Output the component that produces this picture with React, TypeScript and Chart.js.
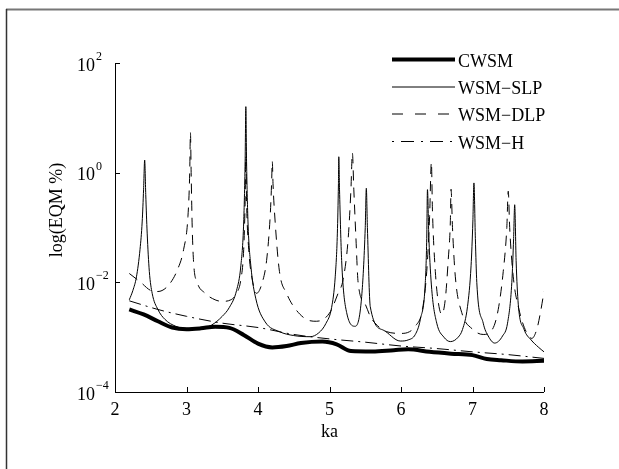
import React, { useEffect, useRef } from "react";
import { Chart, registerables } from "chart.js";

Chart.register(...registerables);

// ---- data ----
const xTicks = [2, 3, 4, 5, 6, 7, 8];
const yTicks = [100, 1, 0.01, 0.0001];
const yTickBase = ["10", "10", "10", "10"];
const yTickExp = ["2", "0", "\u22122", "\u22124"];

const seriesNames = ["CWSM", "WSM\u2212SLP", "WSM\u2212DLP", "WSM\u2212H"];

const cwsmKa = [2.2, 2.4, 2.6, 2.8, 3.0, 3.2, 3.4, 3.6, 3.8, 4.0, 4.2, 4.4, 4.6, 4.9, 5.1, 5.3, 5.6, 5.9, 6.1, 6.4, 6.7, 7.0, 7.2, 7.4, 7.7, 8.0];
const cwsmVal = [3.2e-3, 2.6e-3, 1.95e-3, 1.5e-3, 1.4e-3, 1.45e-3, 1.55e-3, 1.48e-3, 1.1e-3, 7.6e-4, 6.5e-4, 6.9e-4, 7.8e-4, 8.3e-4, 7.4e-4, 5.6e-4, 5.5e-4, 5.8e-4, 6.0e-4, 5.4e-4, 5.0e-4, 4.7e-4, 4.0e-4, 3.8e-4, 3.6e-4, 3.7e-4];

const slpKa = [2.2, 2.25, 2.3, 2.35, 2.38, 2.4, 2.415, 2.43, 2.45, 2.48, 2.52, 2.6, 2.7, 2.85, 3.0, 3.2, 3.35, 3.5, 3.6, 3.7, 3.76, 3.8, 3.82, 3.83, 3.84, 3.86, 3.9, 3.97, 4.1, 4.3, 4.5, 4.73, 4.85, 4.95, 5.03, 5.08, 5.11, 5.125, 5.13, 5.14, 5.17, 5.24, 5.36, 5.45, 5.5, 5.515, 5.53, 5.57, 5.75, 5.99, 6.1, 6.2, 6.27, 6.34, 6.36, 6.37, 6.39, 6.43, 6.5, 6.6, 6.69, 6.8, 6.86, 6.93, 6.98, 7.005, 7.02, 7.04, 7.06, 7.15, 7.22, 7.31, 7.42, 7.49, 7.55, 7.575, 7.59, 7.61, 7.64, 7.72, 7.82, 7.92, 8.0];
const slpVal = [4.8e-3, 7.1e-3, 1.26e-2, 4.0e-2, 0.126, 0.5, 1.7, 0.4, 0.079, 0.0158, 6.3e-3, 3.2e-3, 2.1e-3, 1.58e-3, 1.45e-3, 1.45e-3, 1.66e-3, 2.4e-3, 3.5e-3, 7.1e-3, 0.02, 0.126, 1.6, 16, 1.6, 0.126, 0.02, 5.0e-3, 1.9e-3, 1.26e-3, 1.07e-3, 1.02e-3, 1.2e-3, 1.78e-3, 3.5e-3, 0.0126, 0.079, 0.63, 1.95, 0.5, 0.025, 2.8e-3, 1.58e-3, 5.5e-3, 0.1, 0.52, 0.1, 3.6e-3, 1.35e-3, 8.5e-4, 8.9e-4, 1.12e-3, 2.1e-3, 0.01, 0.063, 0.49, 0.063, 7.4e-3, 1.8e-3, 1.0e-3, 8.3e-4, 1.0e-3, 1.38e-3, 3.6e-3, 0.02, 0.126, 0.65, 0.063, 0.01, 1.8e-3, 1.05e-3, 7.8e-4, 1.05e-3, 1.8e-3, 0.01, 0.063, 0.26, 0.025, 4.0e-3, 1.4e-3, 8.9e-4, 6.6e-4, 5.4e-4];

const dlpKa = [2.2, 2.36, 2.5, 2.6, 2.75, 2.88, 2.96, 3.02, 3.045, 3.055, 3.065, 3.08, 3.1, 3.15, 3.25, 3.4, 3.5, 3.62, 3.7, 3.76, 3.8, 3.82, 3.83, 3.84, 3.87, 3.92, 3.98, 4.06, 4.12, 4.17, 4.19, 4.2, 4.21, 4.24, 4.3, 4.4, 4.5, 4.68, 4.82, 5.0, 5.12, 5.19, 5.26, 5.3, 5.32, 5.34, 5.37, 5.4, 5.5, 5.57, 5.7, 5.8, 6.0, 6.12, 6.2, 6.3, 6.36, 6.4, 6.425, 6.44, 6.48, 6.52, 6.57, 6.62, 6.66, 6.69, 6.7, 6.72, 6.76, 6.85, 7.0, 7.15, 7.28, 7.36, 7.43, 7.48, 7.5, 7.52, 7.57, 7.65, 7.75, 7.83, 7.9, 7.95, 8.0];
const dlpVal = [0.0145, 0.01, 7.1e-3, 6.8e-3, 8.9e-3, 0.0178, 0.04, 0.158, 1.0, 5.4, 1.0, 0.1, 0.0224, 0.01, 6.5e-3, 4.8e-3, 4.5e-3, 4.8e-3, 6.3e-3, 0.0112, 0.04, 0.3, 2.0, 0.3, 0.04, 0.0112, 6.3e-3, 0.01, 0.025, 0.158, 0.63, 1.6, 0.63, 0.126, 0.0158, 6.3e-3, 3.6e-3, 2.1e-3, 1.95e-3, 2.75e-3, 6.3e-3, 0.0112, 0.06, 0.5, 2.3, 0.5, 0.063, 0.01, 4.0e-3, 2.4e-3, 1.5e-3, 1.26e-3, 1.17e-3, 1.26e-3, 1.58e-3, 3.2e-3, 0.0158, 0.158, 1.55, 0.2, 0.0158, 4.5e-3, 2.6e-3, 5.0e-3, 0.025, 0.126, 0.5, 0.1, 0.0126, 2.8e-3, 1.4e-3, 1.12e-3, 1.4e-3, 3.2e-3, 0.0158, 0.1, 0.46, 0.1, 0.0126, 3.2e-3, 1.26e-3, 9.5e-4, 1.4e-3, 2.8e-3, 6.8e-3];

const hKa = [2.2, 2.6, 3.0, 3.5, 4.0, 4.5, 5.0, 5.5, 6.0, 6.5, 7.0, 7.5, 8.0];
const hVal = [4.6e-3, 3.2e-3, 2.4e-3, 1.8e-3, 1.5e-3, 1.12e-3, 9.3e-4, 8.1e-4, 6.9e-4, 6.2e-4, 5.4e-4, 4.8e-4, 4.1e-4];

const FONT = '"Liberation Serif", "Times New Roman", serif';

const toPoints = (xs: number[], ys: number[]) => xs.map((x, i) => ({ x, y: ys[i] }));

const decorPlugin = {
  id: "decor",
  afterDraw(chart: any) {
    const ctx = chart.ctx as CanvasRenderingContext2D;
    const xs = chart.scales.x;
    const ys = chart.scales.y;
    const area = chart.chartArea;
    ctx.save();

    // outer frame (top + left)
    ctx.strokeStyle = "#777";
    ctx.lineWidth = 2;
    ctx.beginPath();
    ctx.moveTo(6, 9.5);
    ctx.lineTo(619, 9.5);
    ctx.stroke();
    ctx.strokeStyle = "#333";
    ctx.lineWidth = 1.5;
    ctx.beginPath();
    ctx.moveTo(6.5, 9);
    ctx.lineTo(6.5, 469);
    ctx.stroke();

    // axes lines
    ctx.strokeStyle = "#000";
    ctx.lineWidth = 1;
    ctx.setLineDash([]);
    ctx.beginPath();
    ctx.moveTo(area.left + 0.5, area.top);
    ctx.lineTo(area.left + 0.5, area.bottom + 0.5);
    ctx.lineTo(area.right, area.bottom + 0.5);
    ctx.stroke();

    // ticks (inward)
    ctx.beginPath();
    xTicks.forEach((t) => {
      const px = Math.round(xs.getPixelForValue(t)) + 0.5;
      ctx.moveTo(px, area.bottom);
      ctx.lineTo(px, area.bottom - 5);
    });
    yTicks.forEach((t) => {
      const py = Math.round(ys.getPixelForValue(t)) + 0.5;
      ctx.moveTo(area.left, py);
      ctx.lineTo(area.left + 5, py);
    });
    ctx.stroke();

    ctx.fillStyle = "#000";
    // x tick labels
    ctx.font = `18px ${FONT}`;
    ctx.textAlign = "center";
    ctx.textBaseline = "alphabetic";
    xTicks.forEach((t) => {
      ctx.fillText(String(t), xs.getPixelForValue(t), area.bottom + 23);
    });
    // y tick labels with exponents
    yTicks.forEach((t, i) => {
      const py = ys.getPixelForValue(t);
      ctx.font = `18px ${FONT}`;
      ctx.textAlign = "right";
      ctx.fillText(yTickBase[i], 95, py + 7.5);
      ctx.font = `12px ${FONT}`;
      ctx.textAlign = "left";
      ctx.fillText(yTickExp[i], 96, py - 3);
    });

    // axis titles
    ctx.font = `18px ${FONT}`;
    ctx.textAlign = "center";
    ctx.fillText("ka", (area.left + area.right) / 2, 437);
    ctx.save();
    ctx.translate(62, 210);
    ctx.rotate(-Math.PI / 2);
    ctx.fillText("log(EQM %)", 0, 0);
    ctx.restore();

    // legend
    const rows = [59.5, 87, 114, 141.5];
    chart.data.datasets.forEach((ds: any, i: number) => {
      const y = rows[i];
      ctx.strokeStyle = "#000";
      ctx.lineWidth = ds.borderWidth;
      ctx.setLineDash(ds.legendDash || []);
      ctx.beginPath();
      ctx.moveTo(392, y);
      ctx.lineTo(455, y);
      ctx.stroke();
      ctx.setLineDash([]);
      ctx.font = `18px ${FONT}`;
      ctx.textAlign = "left";
      ctx.fillText(seriesNames[i], 458, y + 7);
    });

    ctx.restore();
  },
};

export default function App() {
  const ref = useRef<HTMLCanvasElement | null>(null);

  useEffect(() => {
    document.body.style.margin = "0";
    const canvas = ref.current;
    if (!canvas) return;
    const common = {
      pointRadius: 0,
      fill: false,
      borderColor: "#000",
      cubicInterpolationMode: "monotone" as const,
    };
    const chart = new Chart(canvas, {
      type: "line",
      data: {
        datasets: [
          { ...common, label: seriesNames[0], data: toPoints(cwsmKa, cwsmVal), borderWidth: 4, borderDash: [], legendDash: [] } as any,
          { ...common, label: seriesNames[1], data: toPoints(slpKa, slpVal), borderWidth: 1, borderDash: [], legendDash: [] } as any,
          { ...common, label: seriesNames[2], data: toPoints(dlpKa, dlpVal), borderWidth: 1, borderDash: [10, 7], legendDash: [11, 12] } as any,
          { ...common, label: seriesNames[3], data: toPoints(hKa, hVal), borderWidth: 1, borderDash: [12, 5, 2, 5], legendDash: [2, 7, 13, 7] } as any,
        ],
      },
      options: {
        responsive: false,
        animation: false,
        devicePixelRatio: 1,
        layout: { padding: { left: 115, top: 63, right: 75, bottom: 77 } },
        plugins: { legend: { display: false }, tooltip: { enabled: false } },
        scales: {
          x: { type: "linear", min: 2, max: 8, display: false },
          y: { type: "logarithmic", min: 1e-4, max: 100, display: false },
        },
      },
      plugins: [decorPlugin],
    });
    return () => chart.destroy();
  }, []);

  return <canvas ref={ref} width={619} height={469} style={{ display: "block" }} />;
}
